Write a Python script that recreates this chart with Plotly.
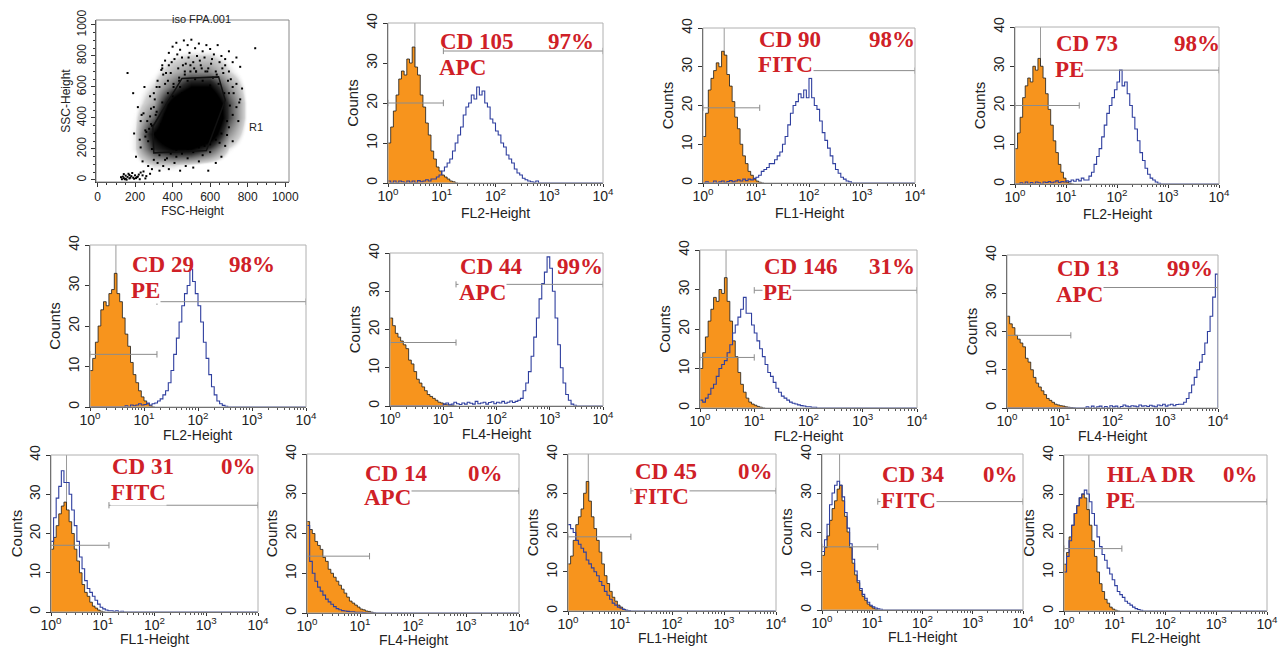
import plotly.graph_objects as go

W, H = 1287, 650
PAGE_OFF = 8   # default page margin of the browser, in px
STEP = 0.05    # width of one histogram channel, in decades

# ---------------- FSC / SSC dot plot ----------------
DENS_FSC = [100, 200, 300, 400, 500, 600, 700, 800, 900]
DENS_SSC = [0, 100, 200, 300, 400, 500, 600, 700, 800, 900]
DENS = [
    [0, 0, 0, 0, 0, 0, 0, 0, 0],
    [0, 0.3, 1.2, 1.2, 0.8, 0.4, 0, 0, 0],
    [0, 1.0, 4.5, 6, 6, 4, 1.0, 0, 0],
    [0, 1.0, 6, 9, 10, 8, 2.5, 0.3, 0],
    [0, 0.8, 3.5, 9, 10, 10, 4, 0.5, 0],
    [0, 0.5, 2, 7, 10, 9, 4, 0.5, 0],
    [0, 0.3, 1.2, 3.5, 6, 6, 2.5, 0.4, 0],
    [0, 0, 0.6, 1.8, 2.6, 2.6, 1.2, 0.2, 0],
    [0, 0, 0.2, 0.8, 1.2, 1.2, 0.5, 0, 0],
    [0, 0, 0, 0, 0, 0, 0, 0, 0],
]
R1_FSC = [295, 450, 645, 680, 580, 300, 295]
R1_SSC = [345, 655, 665, 515, 190, 175, 345]
EV_FSC = [130, 140, 150, 160, 170, 180, 190, 200, 210, 220, 150, 165, 135, 185, 240, 260, 280, 245, 255, 230,
          145, 175, 195, 215, 125, 155, 205, 225, 170, 140,
          160, 190, 215, 230, 245, 260, 270, 290, 250, 280, 300, 310, 230, 205, 240, 270, 300, 320, 290, 330,
          350, 380, 410, 440, 470, 510, 540, 590, 630, 660, 560, 600, 480, 420, 370,
          320, 340, 360, 380, 400, 420, 440, 460, 480, 500, 520, 540, 560, 580, 600, 620, 640, 660, 680, 700,
          720, 740, 760, 700, 680, 650, 610, 570, 530, 490, 450, 410, 380, 350, 330, 360, 390, 430, 470, 510,
          550, 590, 630, 670, 710, 740, 770, 760, 740, 720, 750, 700, 690, 720, 680, 650, 840, 700, 720, 290,
          310, 330, 280, 300,
          350, 380, 420, 460, 500, 540, 580, 620, 640, 650, 640, 620, 600, 560, 520, 480, 440, 400, 380, 360,
          340, 400, 450, 550, 600, 600, 560, 500, 450, 420, 470, 520, 570, 520, 460, 390,
          265, 285, 305, 255, 275, 315, 235, 345, 365, 395, 425, 455, 485, 515, 545, 575, 605, 635, 665, 695,
          725, 755, 705, 675, 645, 615, 585, 555, 525, 495, 465, 435, 405, 375, 345, 315, 285, 255, 225, 195,
          330, 360, 390, 420, 450, 480, 510, 540, 570, 600, 630, 660, 690, 345, 375, 405, 435, 465, 495, 525]
EV_SSC = [5, 12, 8, 20, 10, 25, 15, 30, 18, 35, 28, 40, 22, 45, 30, 25, 40, 55, 10, 48,
          5, 15, 8, 22, 18, 2, 12, 5, 32, 38,
          690, 560, 470, 380, 430, 310, 250, 200, 600, 540, 470, 420, 210, 150, 120, 90, 130, 110, 70, 60,
          90, 70, 110, 60, 90, 80, 120, 60, 110, 150, 160, 180, 140, 150, 140,
          640, 710, 770, 820, 860, 885, 840, 900, 870, 905, 850, 880, 830, 870, 845, 810, 870, 800, 780, 830,
          760, 790, 730, 700, 740, 760, 780, 790, 800, 820, 790, 780, 740, 680, 600, 620, 690, 720, 750, 760,
          740, 720, 700, 690, 650, 620, 590, 520, 470, 420, 380, 340, 290, 250, 220, 240, 850, 560, 600, 350,
          300, 270, 410, 560,
          300, 250, 220, 210, 230, 240, 260, 300, 350, 420, 500, 560, 610, 640, 650, 640, 600, 540, 480, 420,
          360, 320, 300, 330, 400, 480, 560, 580, 560, 450, 420, 480, 380, 300, 500, 380,
          380, 460, 520, 280, 330, 600, 420, 740, 690, 760, 810, 740, 790, 720, 770, 700, 750, 680, 720, 640,
          560, 500, 480, 560, 620, 660, 700, 720, 700, 740, 700, 660, 620, 560, 500, 440, 360, 320, 260, 300,
          160, 130, 170, 190, 170, 200, 180, 210, 220, 230, 260, 300, 380, 720, 640, 600, 640, 680, 700, 700]

# ---------------- histogram panels ----------------
MARKERS = ['CD 105', 'CD 90', 'CD 73', 'CD 29', 'CD 44', 'CD 146', 'CD 13',
           'CD 31', 'CD 14', 'CD 45', 'CD 34', 'HLA DR']
FLUORS = ['APC', 'FITC', 'PE', 'PE', 'APC', 'PE', 'APC', 'FITC', 'APC', 'FITC', 'FITC', 'PE']
PERCENTS = ['97%', '98%', '98%', '98%', '99%', '31%', '99%', '0%', '0%', '0%', '0%', '0%']
CHANNELS = ['FL2-Height', 'FL1-Height', 'FL2-Height', 'FL2-Height', 'FL4-Height', 'FL2-Height',
            'FL4-Height', 'FL1-Height', 'FL4-Height', 'FL1-Height', 'FL1-Height', 'FL2-Height']

# isotype control counts per channel, starting at 10^0
CD105_ISO = [10, 14, 18, 22, 26, 28, 27, 31, 30, 34, 29, 27, 22, 19, 15, 12, 8, 6, 4, 3, 2, 1.5, 1, 0.5, 0.3, 0]
CD90_ISO = [12, 18, 24, 27, 29, 31, 30, 34, 33, 28, 25, 21, 17, 14, 10, 7, 5, 3, 2, 1, 0.5, 0.2, 0]
CD73_ISO = [9, 13, 17, 22, 25, 27, 26, 30, 29, 32, 30, 27, 23, 19, 15, 11, 8, 5, 3, 1.5, 0.5, 0.2, 0]
CD29_ISO = [9, 12, 16, 20, 24, 26, 25, 28, 29, 33, 28, 26, 22, 18, 15, 11, 8, 6, 4, 2.5, 1.5, 0.8, 0.3, 0]
CD44_ISO = [23, 21, 19, 18, 17, 16, 15, 12, 11, 9, 7, 6, 5, 4, 3, 2.5, 2, 1.5, 1, 0.8, 0.5, 0.3, 0.2, 0.1, 0]
CD146_ISO = [10, 14, 18, 22, 25, 28, 27, 30, 29, 33, 27, 22, 17, 13, 9, 6, 4, 2.5, 1.5, 1, 0.7, 0.4, 0.2, 0]
CD13_ISO = [24, 22, 21, 19, 18, 17, 16, 13, 12, 10, 8, 6.5, 5.5, 4.5, 3.5, 2.5, 2, 1.5, 1, 0.8, 0.6, 0.5, 0.3, 0.2, 0.1, 0]
CD31_ISO = [16, 19, 22, 25, 27, 28, 26, 23, 20, 16, 13, 10, 7, 5, 4, 2.5, 1.5, 1, 0.5, 0.2, 0]
CD14_ISO = [23, 21, 20, 18, 17, 16, 14, 13, 11, 10, 9, 8, 7, 6, 5, 4, 3, 2.5, 2, 1.5, 1, 0.8, 0.5, 0.4, 0.2, 0]
CD45_ISO = [12, 14, 18, 22, 24, 26, 30, 33, 28, 24, 21, 18, 15, 12, 9, 7, 5, 3.5, 2.5, 1.5, 1, 0.5, 0.2, 0]
CD34_ISO = [14, 16, 19, 23, 26, 28, 31, 32, 28, 24, 20, 16, 12, 9, 7, 5, 3.5, 2.5, 1.5, 1, 0.5, 0.2, 0]
HLADR_ISO = [12, 15, 19, 22, 25, 27, 29, 30, 29, 26, 22, 18, 14, 10, 7, 5, 3, 2, 1, 0.5, 0.2, 0]

# stained sample counts per channel, starting at 10^(start)
CD105_POS = [0.5, 0, 0.5, 0, 0.5, 0.3, 0, 0.5, 0.2, 0.5, 0, 0.6, 0.3, 0.5, 0.8, 0.5, 1,
             1, 1.5, 2, 3, 4, 5, 6, 8, 10, 12, 14, 17, 19, 20, 22, 21, 24, 22, 23, 20,
             19, 16, 15, 13, 12, 10, 9, 7, 6, 5, 3.5, 2.5, 2, 1.2, 0.8, 0.5, 0.3, 0.2, 0.5, 0]
CD90_POS = [0, 0.3, 0, 0, 0.5, 0, 0.3, 0.5, 0, 0.4, 0.6, 0.3, 0.5, 0.8, 0.5, 1, 0.6, 1, 0.8, 1.2,
            1.5, 2, 3, 3.5, 4, 5, 5, 6, 7, 8, 10, 12, 15, 18, 20, 21, 23, 22, 24, 22,
            27, 22, 20, 19, 16, 13, 11, 9, 7, 5, 3.5, 2.5, 1.5, 1, 0.5, 0.3, 0]
CD73_POS = [0, 0, 0.3, 0, 0.5, 0, 0.4, 0, 0.5, 0.3, 0, 0.5, 0.4, 0.6, 0.3, 0.5, 0.8, 0.4, 0.6, 0.5,
            0.8, 0.6, 1, 0.7, 1.2, 0.8, 1.5, 1,
            1, 2, 3, 5, 7, 9, 12, 15, 18, 20, 22, 24, 26, 29, 25, 26, 23, 20, 17, 14,
            11, 8, 6, 4, 2.5, 1.5, 1, 0.5, 0.2, 0]
CD29_POS = [0, 0, 0, 0, 0, 0, 0, 0, 0, 0, 0, 0, 0, 0.3, 0, 0.5, 0.3, 0.5, 0.8, 0.5, 0.6, 1, 0.5, 0.8,
            1, 1.5, 2, 3, 4, 6, 9, 13, 17, 21, 25, 28, 30, 34, 31, 28, 25, 21, 16, 12,
            8, 5, 3, 1.5, 0.8, 0.4, 0.2, 0]
CD44_POS = [0.5, 0.8, 0.3, 0.5, 1, 0.6, 0.4, 0.8, 0.5, 1, 0.7, 0.5, 1.2, 0.6, 0.8, 1, 0.5, 0.9, 1.1, 0.6,
            1, 0.8, 1.2, 0.7, 1, 1.3, 0.9, 1.2,
            1.5, 2, 4, 6, 9, 13, 18, 23, 28, 32, 35, 39, 36, 30, 23, 16, 10, 6, 3, 1.5, 0.5, 0.2, 0]
CD146_POS = [2, 1.5, 2.5, 3.5, 5, 6, 8, 10, 11, 12, 14, 16, 19, 21, 23, 25, 28, 24, 24, 21,
             19, 17, 15, 13, 11, 9, 8, 6.5, 5, 4, 3, 2.5, 2, 1.5, 1.2, 1, 0.8, 0.6, 0.5, 0.3,
             0.3, 0.2, 0.2, 0]
CD13_POS = [0.3, 0, 0.5, 0, 0.3, 0.5, 0, 0.4, 0, 0.6, 0.3, 0.5, 0, 0.4, 0.8, 0.5, 0.3, 0.6, 0.5, 0.3,
            0.8, 0.5, 0.6, 0.4, 0.7, 0.5, 0.3, 0.8, 0.6, 1, 0.5, 0.8, 1, 0.6, 0.9, 1,
            1, 1.5, 2.5, 4, 6, 8, 10, 12, 14, 17, 20, 24, 29, 35]
CD31_POS = [18, 24, 29, 32, 36, 33, 33, 30, 26, 22, 18, 14, 11, 8, 6, 5, 4, 3, 2, 1.2,
            0.8, 0.5, 0.3, 0.3, 0.2, 0.3, 0, 0.2, 0]
CD14_POS = [22, 13, 10, 8, 6.5, 5.5, 4.5, 3.5, 2.8, 2.2, 1.6, 1.1, 0.8, 0.6, 0.5, 0.4, 0.3, 0.3, 0.2, 0.2,
            0.2, 0.1, 0]
CD45_POS = [22, 21, 20, 18, 17, 16, 15, 13, 12, 11, 10, 9, 7.5, 6.5, 5, 4, 3, 2, 1.5, 1,
            0.7, 0.4, 0.2, 0.1, 0]
CD34_POS = [15, 18, 22, 27, 30, 32, 33, 32, 29, 25, 21, 17, 13, 10, 7.5, 5.5, 4, 3, 2, 1.2,
            0.8, 0.5, 0.3, 0.2, 0]
HLADR_POS = [10, 14, 18, 22, 25, 27, 29, 30, 31, 30, 28, 25, 22, 19, 16.5, 14.5, 13, 11, 9.5, 8,
             6.5, 5, 4.2, 3.5, 2.5, 2, 1.5, 1, 0.6, 0.4, 0.2, 0]
POS_START = [0, 0, 0, 0, 1.0, 0, 1.5, 0, 0, 0, 0, 0]  # decade of first stained channel

# marker gates (decades / counts)
M1_END = [1.03, 1.07, 1.26, 1.24, 1.24, 1.0, 1.21, 1.12, 1.18, 1.21, 1.11, 1.14]
M1_Y = [20, 19.4, 20, 13, 16.6, 12.8, 19, 17, 14.3, 18.9, 16.2, 16]
M2_START = [1.03, 1.07, 1.26, 1.24, 1.24, 1.0, 1.16, 1.12, 1.18, 1.21, 1.11, 1.14]
M2_Y = [33, 29, 29, 26, 31.8, 29.8, 31.5, 27.2, 30.7, 30.6, 27.8, 28]
SPIKE = [0.5, 0.4, 0.5, 0.48, None, 0.48, None, 0.3, None, 0.39, 0.35, 0.49]

ISO = [CD105_ISO, CD90_ISO, CD73_ISO, CD29_ISO, CD44_ISO, CD146_ISO, CD13_ISO,
       CD31_ISO, CD14_ISO, CD45_ISO, CD34_ISO, HLADR_ISO]
POS = [CD105_POS, CD90_POS, CD73_POS, CD29_POS, CD44_POS, CD146_POS, CD13_POS,
       CD31_POS, CD14_POS, CD45_POS, CD34_POS, HLADR_POS]

# ---------------- layout (pixel boxes: left, right, top, bottom) ----------------
BOXES = [(96, 289, 20, 182),
         (388, 603, 23, 183), (703, 915, 28, 183), (1015, 1219, 27, 184),
         (90, 306, 245, 407), (390, 603, 253, 406), (700, 917, 250, 408), (1007, 1218, 255, 408),
         (51, 258, 455, 612), (307, 519, 454, 613), (568, 776, 454, 611), (822, 1023, 454, 610),
         (1064, 1267, 455, 611)]
XTITLE_GAP = [30, 30, 30, 28, 28, 28, 28, 27, 27, 27, 27, 27]
# label positions: name left, name cap-top, percent right, fluor cap-top
LABELS = [(438, 35, 596, 60), (757, 33, 917, 57), (1054, 37, 1222, 62),
          (130, 258, 277, 283), (458, 260, 605, 285), (762, 260, 917, 285), (1055, 262, 1215, 287),
          (110, 460, 258, 485), (363, 467, 505, 490), (633, 465, 775, 489), (880, 468, 1020, 493),
          (1105, 468, 1260, 493)]

ORANGE = '#f7941d'
BLUE = '#2f3f9f'
RED = '#cf2027'
GATE = '#8c8c8c'
SANS = 'Liberation Sans, Arial, sans-serif'
SERIF = 'Liberation Serif, Times New Roman, serif'
LABEL_SIZE = 23
CAP_OFF = 8


def px(xp):
    return (xp - PAGE_OFF) / W


def py(yp):
    return 1 - (yp - PAGE_OFF) / H


def xdom(l, r):
    return [px(l), px(r)]


def ydom(t, b):
    return [py(b), py(t)]


fig = go.Figure()
layout = dict(width=W, height=H, margin=dict(l=0, r=0, t=0, b=0, autoexpand=False),
              paper_bgcolor='white', plot_bgcolor='white', showlegend=False,
              font=dict(family=SANS, color='#222'))
shapes = []
annotations = []

# ---- dot plot ----
fig.add_trace(go.Heatmap(x=DENS_FSC, y=DENS_SSC, z=DENS, zmin=0, zmax=10, zsmooth='best',
                         showscale=False, hoverinfo='skip',
                         colorscale=[[0, 'rgba(255,255,255,0)'], [0.06, 'rgba(255,255,255,0)'],
                                     [0.12, '#d2d2d2'], [0.3, '#7a7a7a'], [0.45, '#2a2a2a'],
                                     [0.6, '#000000'], [1, '#000000']],
                         xaxis='x', yaxis='y'))
fig.add_trace(go.Scatter(x=EV_FSC, y=EV_SSC, mode='markers', xaxis='x', yaxis='y',
                         marker=dict(color='black', size=2, symbol='square')))
fig.add_trace(go.Scatter(x=R1_FSC, y=R1_SSC, mode='lines', xaxis='x', yaxis='y',
                         line=dict(color='#111', width=1.5)))
l, r, t, b = BOXES[0]
layout['xaxis'] = dict(domain=xdom(l, r), anchor='y', range=[-8, 1020], tickvals=[0, 200, 400, 600, 800, 1000],
                       ticks='outside', ticklen=4, tickcolor='#333', showline=True, linecolor='#333',
                       showgrid=False, zeroline=False, tickfont=dict(size=12), automargin=False,
                       minor=dict(dtick=50, ticks='outside', ticklen=2, tickcolor='#333'),
                       title=dict(text='FSC-Height', font=dict(size=12), standoff=0))
layout['yaxis'] = dict(domain=ydom(t, b), anchor='x', range=[-13, 1032], tickvals=[0, 200, 400, 600, 800, 1000],
                       ticks='outside', ticklen=4, tickcolor='#333', showline=True, linecolor='#333',
                       showgrid=False, zeroline=False, tickangle=-90, tickfont=dict(size=12), automargin=False,
                       minor=dict(dtick=50, ticks='outside', ticklen=2, tickcolor='#333'),
                       title=dict(text='SSC-Height', font=dict(size=12), standoff=2))
shapes.append(dict(type='rect', xref='x domain', yref='y domain', x0=0, x1=1, y0=0, y1=1,
                   line=dict(color='#888', width=1)))
annotations.append(dict(text='iso FPA.001', x=px(170), y=py(11), xref='paper', yref='paper',
                        showarrow=False, font=dict(size=11, color='#222')))
annotations.append(dict(text='R1', x=843, y=344, xref='x', yref='y', showarrow=False,
                        font=dict(size=11, color='#222')))

# ---- histograms ----
DEC_VALS = [1, 10, 100, 1000, 10000]
DEC_TEXT = ['10<sup>0</sup>', '10<sup>1</sup>', '10<sup>2</sup>', '10<sup>3</sup>', '10<sup>4</sup>']
MINOR_VALS = [m * 10 ** d for d in range(4) for m in range(2, 10)]

for i in range(12):
    k = i + 2
    xa, ya = f'x{k}', f'y{k}'
    if SPIKE[i] is not None:
        fig.add_trace(go.Scatter(x=[10 ** SPIKE[i], 10 ** SPIKE[i]], y=[0, 40], mode='lines',
                                 xaxis=xa, yaxis=ya, line=dict(color='#9a9a9a', width=1)))
    iso = ISO[i]
    xi = [10 ** (j * STEP) for j in range(len(iso))] + [10 ** (len(iso) * STEP)]
    yi = list(iso) + [0]
    fig.add_trace(go.Scatter(x=xi, y=yi, mode='lines', line_shape='hv', fill='tozeroy',
                             fillcolor=ORANGE, line=dict(color='#1a1a1a', width=0.8),
                             xaxis=xa, yaxis=ya))
    pos = POS[i]
    s0 = POS_START[i]
    xp = [10 ** (s0 + j * STEP) for j in range(len(pos))]
    yp = list(pos)
    end = s0 + len(pos) * STEP
    if s0 > 0:
        xp = [1] + xp
        yp = [0] + yp
    xp.append(10 ** min(end, 4))
    yp.append(0)
    if end < 4:
        xp.append(10 ** 4)
        yp.append(0)
    fig.add_trace(go.Scatter(x=xp, y=yp, mode='lines', line_shape='hv',
                             line=dict(color=BLUE, width=1.1), xaxis=xa, yaxis=ya))
    e1, h1, s2, h2 = 10 ** M1_END[i], M1_Y[i], 10 ** M2_START[i], M2_Y[i]
    gx = [1, e1, None, 1, 1, None, e1, e1, None, s2, 10 ** 4, None, s2, s2, None, 10 ** 4, 10 ** 4]
    gy = [h1, h1, None, h1 - 0.8, h1 + 0.8, None, h1 - 0.8, h1 + 0.8, None,
          h2, h2, None, h2 - 0.8, h2 + 0.8, None, h2 - 0.8, h2 + 0.8]
    fig.add_trace(go.Scatter(x=gx, y=gy, mode='lines', line=dict(color=GATE, width=1),
                             xaxis=xa, yaxis=ya))

    l, r, t, b = BOXES[k - 1]
    layout[f'xaxis{k}'] = dict(domain=xdom(l, r), anchor=ya, type='log', range=[0, 4],
                               tickvals=DEC_VALS, ticktext=DEC_TEXT, ticks='outside', ticklen=3,
                               tickcolor='#333', showline=True, linecolor='#333', showgrid=False,
                               zeroline=False, tickfont=dict(size=14), automargin=False,
                               ticklabelstandoff=-3,
                               minor=dict(tickmode='array', tickvals=MINOR_VALS, ticks='outside',
                                          ticklen=2, tickcolor='#555'))
    layout[f'yaxis{k}'] = dict(domain=ydom(t, b), anchor=xa, range=[0, 40],
                               tickvals=[0, 10, 20, 30, 40], ticks='outside', ticklen=4,
                               tickcolor='#333', showline=True, linecolor='#333', showgrid=False,
                               zeroline=False, tickangle=-90, tickfont=dict(size=14), automargin=False,
                               title=dict(text='Counts', font=dict(size=15), standoff=2))
    shapes.append(dict(type='rect', xref=f'{xa} domain', yref=f'{ya} domain', x0=0, x1=1, y0=0, y1=1,
                       line=dict(color='#b0b0b0', width=1)))
    # x-axis title
    annotations.append(dict(text=CHANNELS[i], x=px((l + r) / 2), y=py(b + XTITLE_GAP[i]),
                            xref='paper', yref='paper', xanchor='center', yanchor='middle',
                            showarrow=False, font=dict(size=14, color='#222')))

    nl, nt, pr, ft = LABELS[i]
    font = dict(family=SERIF, size=LABEL_SIZE, color=RED)
    annotations.append(dict(text='<b>' + MARKERS[i] + '</b>', x=px(nl), y=py(nt - CAP_OFF),
                            xref='paper', yref='paper', xanchor='left', yanchor='top',
                            showarrow=False, font=font))
    annotations.append(dict(text='<b>' + FLUORS[i] + '</b>', x=px(nl), y=py(ft - CAP_OFF + 2),
                            xref='paper', yref='paper', xanchor='left', yanchor='top',
                            showarrow=False, font=font, bgcolor='white', borderpad=0))
    annotations.append(dict(text='<b>' + PERCENTS[i] + '</b>', x=px(pr), y=py(nt - CAP_OFF),
                            xref='paper', yref='paper', xanchor='right', yanchor='top',
                            showarrow=False, font=font))

layout['shapes'] = shapes
layout['annotations'] = annotations
fig.update_layout(**layout)
fig.write_html('out.html')
